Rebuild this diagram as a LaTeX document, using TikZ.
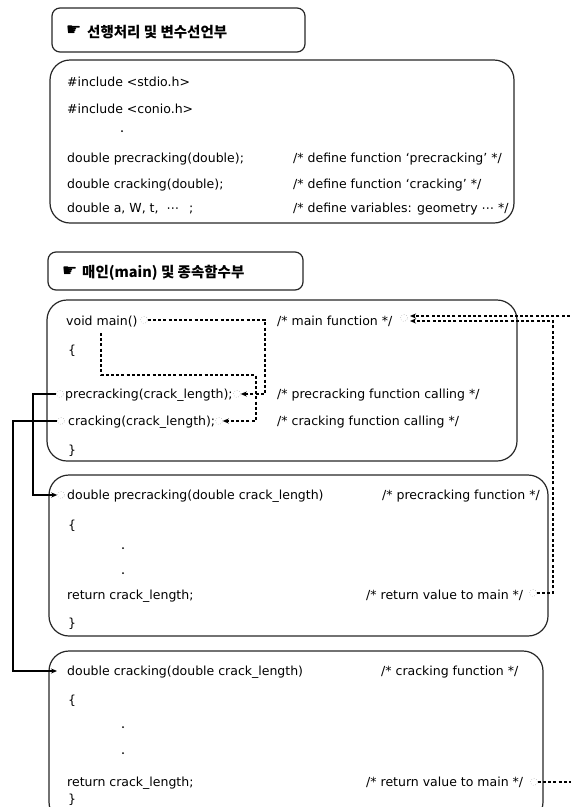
\documentclass[tikz,border=0pt]{standalone}
\usepackage{fontspec}
\setmainfont{DejaVu Sans}
\newfontfamily\kr{Noto Sans CJK KR}
\newfontfamily\sym{DejaVu Sans}
\usetikzlibrary{arrows.meta}
\begin{document}
\begin{tikzpicture}[x=1pt,y=-1pt,
  cbox/.style={draw=black!85, line width=1.2pt, rounded corners=20pt},
  hdbox/.style={draw=black!85, line width=1.2pt, rounded corners=8pt},
  codetxt/.style={anchor=base west, inner sep=0pt, font=\fontsize{12.5}{14}\selectfont, text=black},
  hdtxt/.style={anchor=west, inner sep=0pt, font=\kr\bfseries\fontsize{14.5}{16}\selectfont},
  icon/.style={anchor=west, inner sep=0pt, font=\sym\fontsize{17}{18}\selectfont},
  hole/.style={circle, draw=black!40, dotted, line width=0.5pt, minimum size=7pt, inner sep=0pt},
  dline/.style={line width=1.1pt, dash pattern=on 3pt off 2.2pt},
  sline/.style={line width=1.1pt},
  arrowend/.style={-{Stealth[length=6pt,width=5pt]}}
]
\useasboundingbox (0,0) rectangle (571,807);
\clip (0,0) rectangle (571,807);

% ---------- header 1 ----------
\draw[hdbox] (52,8) rectangle (305,52);
\node[icon] (h1i) at (66,31) {☛};
\node[hdtxt] (h1t) at (87,32) {선행처리 및 변수선언부};

% ---------- box 1 ----------
\draw[cbox] (50,60) rectangle (514,223);
\node[codetxt] (i1) at (67,86.5) {\#include <stdio.h>};
\node[codetxt] (i2) at (67,113) {\#include <conio.h>};
\fill (122,131) circle (1pt);
\node[codetxt] (d1t) at (67,162) {double precracking(double);};
\node[codetxt] (d2t) at (67,188.5) {double cracking(double);};
\node[codetxt] (d3t) at (67,212.5) {double a, W, t,\hspace{8pt}⋯\hspace{10pt};};
\node[codetxt] (k1) at (293,162) {/* define function ‘precracking’ */};
\node[codetxt] (k2) at (293,188.5) {/* define function ‘cracking’ */};
\node[codetxt] (k3) at (293,212.5) {/* define variables: geometry ⋯ */};

% ---------- header 2 ----------
\draw[hdbox] (48,252) rectangle (303,290);
\node[icon] (h2i) at (62,272) {☛};
\node[hdtxt] (h2t) at (82,273) {매인(main) 및 종속함수부};

% ---------- box 2 (main) ----------
\draw[cbox] (47,300) rectangle (517,461);
\node[codetxt] (vm) at (66,325.5) {void main()};
\node[codetxt] (lb2) at (68,354.5) {\{};
\node[codetxt] (pr) at (65,398.5) {precracking(crack\_length);};
\node[codetxt] (cr) at (68,425.5) {cracking(crack\_length);};
\node[codetxt] (rb2) at (68,454.5) {\}};
\node[codetxt] (c21) at (277,325.5) {/* main function */};
\node[codetxt] (c22) at (277,398.5) {/* precracking function calling */};
\node[codetxt] (c23) at (277,425.5) {/* cracking function calling */};

\node[hole] (vmh) at (144,320) {};
\node[hole] (prh1) at (60,394) {};
\node[hole] (prh2) at (237,394) {};
\node[hole] (crh1) at (61,421) {};
\node[hole] (crh2) at (219,421) {};
\node[hole] (mfh) at (404,318) {};

% ---------- box 3 ----------
\draw[cbox] (49,475) rectangle (548,636);
\node[codetxt] (dp) at (67,499.5) {double precracking(double crack\_length)};
\node[codetxt] (c31) at (382,499.5) {/* precracking function */};
\node[codetxt] (lb3) at (68,529.5) {\{};
\fill (123,548) circle (1pt);
\fill (123,573) circle (1pt);
\node[codetxt] (rt3) at (67,599.5) {return crack\_length;};
\node[codetxt] (c32) at (366,599.5) {/* return value to main */};
\node[codetxt] (rb3) at (68,627.5) {\}};
\node[hole] (dph) at (61,495) {};
\node[hole] (r3h) at (533,593) {};

% ---------- box 4 ----------
\draw[cbox] (49,651) rectangle (543,822);
\node[codetxt] (dc) at (67,675.5) {double cracking(double crack\_length)};
\node[codetxt] (c41) at (381,675.5) {/* cracking function */};
\node[codetxt] (lb4) at (68,704) {\{};
\fill (123,727) circle (1pt);
\fill (123,753) circle (1pt);
\node[codetxt] (rt4) at (67,786) {return crack\_length;};
\node[codetxt] (c42) at (366,786) {/* return value to main */};
\node[codetxt] (rb4) at (68,803) {\}};
\node[hole] (r4h) at (534,782) {};

% ---------- connectors ----------
\coordinate (a1) at (265,320);
\draw[dline,arrowend] (vmh.east) -- (a1) |- (prh2.east);

\coordinate (b0) at (101,333);
\coordinate (b1) at (256,375);
\draw[dline,arrowend] (b0) |- (b1) |- (crh2.east);

\coordinate (c1) at (33,450);
\draw[sline,arrowend] (prh1.west) -- (prh1.west -| c1) |- (dph.west);

\coordinate (d1) at (13,600);
\coordinate (dcin) at (57,671);
\draw[sline,arrowend] (crh1.west) -- (crh1.west -| d1) |- (dcin);

\coordinate (e1) at (553,500);
\coordinate (mf2) at (410,321);
\draw[dline,arrowend] (r3h.east) -- (r3h.east -| e1) |- (mf2);

\coordinate (fr) at (575,782);
\draw[dline] (r4h.east) -- (fr);
\coordinate (ft) at (575,316);
\coordinate (mf1) at (410,316);
\draw[dline,arrowend] (ft) -- (mf1);
\end{tikzpicture}
\end{document}
